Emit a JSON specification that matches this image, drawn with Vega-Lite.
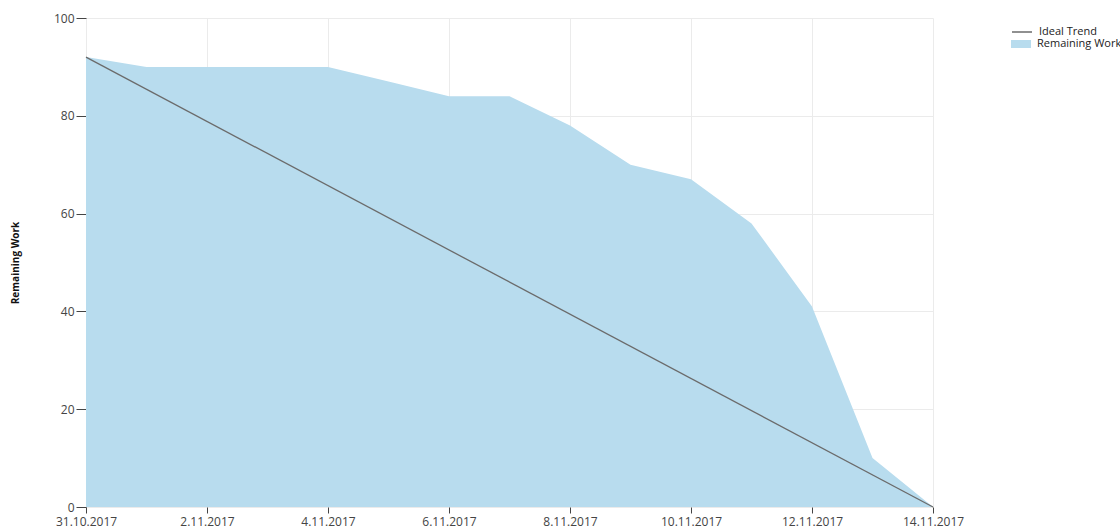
{
  "$schema": "https://vega.github.io/schema/vega-lite/v6.json",
  "autosize": "none",
  "width": 847,
  "height": 489,
  "padding": {"left": 86, "top": 18, "right": 187, "bottom": 24},
  "config": {
    "view": {"stroke": null},
    "font": "Open Sans",
    "axis": {"gridColor": "#ebebeb", "gridWidth": 1, "domain": false, "tickColor": "#444", "labelColor": "#444", "labelFontSize": 12, "labelFont": "Open Sans"}
  },
  "datasets": {
    "remaining": [
      {"date": "2017-10-31", "work": 92},
      {"date": "2017-11-01", "work": 90},
      {"date": "2017-11-02", "work": 90},
      {"date": "2017-11-03", "work": 90},
      {"date": "2017-11-04", "work": 90},
      {"date": "2017-11-05", "work": 87},
      {"date": "2017-11-06", "work": 84},
      {"date": "2017-11-07", "work": 84},
      {"date": "2017-11-08", "work": 78},
      {"date": "2017-11-09", "work": 70},
      {"date": "2017-11-10", "work": 67},
      {"date": "2017-11-11", "work": 58},
      {"date": "2017-11-12", "work": 41},
      {"date": "2017-11-13", "work": 10},
      {"date": "2017-11-14", "work": 0}
    ],
    "ideal": [
      {"date": "2017-10-31", "work": 92},
      {"date": "2017-11-14", "work": 0}
    ]
  },
  "encoding": {
    "x": {
      "field": "date", "type": "temporal",
      "scale": {"type": "utc", "domain": [{"year": 2017, "month": 10, "date": 31, "utc": true}, {"year": 2017, "month": 11, "date": 14, "utc": true}]},
      "axis": {
        "title": null,
        "format": "%-d.%m.%Y",
        "values": [
          {"year": 2017, "month": 10, "date": 31, "utc": true},
          {"year": 2017, "month": 11, "date": 2, "utc": true},
          {"year": 2017, "month": 11, "date": 4, "utc": true},
          {"year": 2017, "month": 11, "date": 6, "utc": true},
          {"year": 2017, "month": 11, "date": 8, "utc": true},
          {"year": 2017, "month": 11, "date": 10, "utc": true},
          {"year": 2017, "month": 11, "date": 12, "utc": true},
          {"year": 2017, "month": 11, "date": 14, "utc": true}
        ],
        "tickSize": 6,
        "labelPadding": 3,
        "labelFlush": false,
        "labelOverlap": false
      }
    },
    "y": {
      "field": "work", "type": "quantitative",
      "scale": {"domain": [0, 100], "nice": false},
      "axis": {
        "title": "Remaining Work",
        "titleFontSize": 10,
        "titleFontWeight": "bold",
        "titleColor": "#111",
        "titlePadding": 33,
        "values": [0, 20, 40, 60, 80, 100],
        "tickSize": 10,
        "labelPadding": 2
      }
    }
  },
  "layer": [
    {
      "data": {"name": "remaining"},
      "mark": {"type": "area", "opacity": 1},
      "encoding": {
        "fill": {
          "datum": "Remaining Work",
          "type": "nominal",
          "scale": {"domain": ["Remaining Work"], "range": ["#b8dcee"]},
          "legend": {
            "title": null, "orient": "none", "legendX": 925, "legendY": 16,
            "symbolType": "M-1,-0.4H1V0.4H-1Z", "symbolSize": 400, "symbolStrokeWidth": 0,
            "labelFontSize": 11, "labelColor": "#222", "labelOffset": 6
          }
        }
      }
    },
    {
      "data": {"name": "ideal"},
      "mark": {"type": "line", "strokeWidth": 1.3},
      "encoding": {
        "stroke": {
          "datum": "Ideal Trend",
          "type": "nominal",
          "scale": {"domain": ["Ideal Trend"], "range": ["#6b6b6b"]},
          "legend": {
            "title": null, "orient": "none", "legendX": 925, "legendY": 3,
            "symbolType": "stroke", "symbolSize": 400, "symbolStrokeWidth": 1.5, "symbolStrokeColor": "#333",
            "labelFontSize": 11, "labelColor": "#222", "labelOffset": 6
          }
        }
      }
    }
  ]
}
